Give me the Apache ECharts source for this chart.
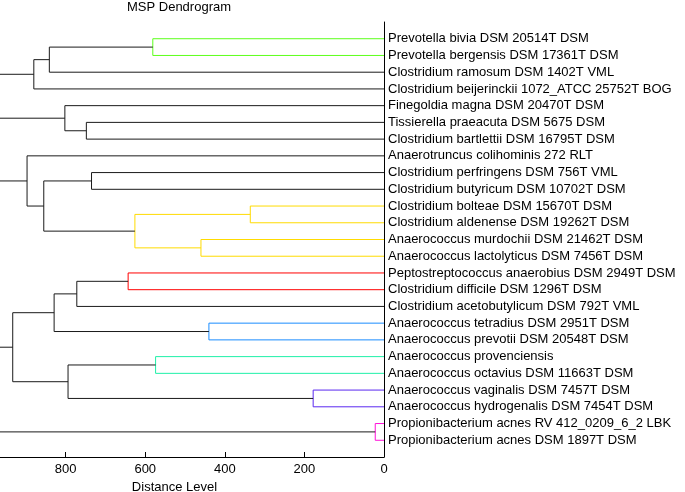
<!DOCTYPE html>
<html>
<head>
<meta charset="utf-8">
<script src="https://cdn.jsdelivr.net/npm/echarts@6/dist/echarts.min.js"></script>
<style>html,body{margin:0;padding:0;background:#fff;}#c{width:685px;height:492px;}</style>
</head>
<body>
<div id="c"></div>
<script>
// Leaf labels, top to bottom (leaf 1..25)
var leafLabels = [
  'Prevotella bivia DSM 20514T DSM',
  'Prevotella bergensis DSM 17361T DSM',
  'Clostridium ramosum DSM 1402T VML',
  'Clostridium beijerinckii 1072_ATCC 25752T BOG',
  'Finegoldia magna DSM 20470T DSM',
  'Tissierella praeacuta DSM 5675 DSM',
  'Clostridium bartlettii DSM 16795T DSM',
  'Anaerotruncus colihominis 272 RLT',
  'Clostridium perfringens DSM 756T VML',
  'Clostridium butyricum DSM 10702T DSM',
  'Clostridium bolteae DSM 15670T DSM',
  'Clostridium aldenense DSM 19262T DSM',
  'Anaerococcus murdochii DSM 21462T DSM',
  'Anaerococcus lactolyticus DSM 7456T DSM',
  'Peptostreptococcus anaerobius DSM 2949T DSM',
  'Clostridium difficile DSM 1296T DSM',
  'Clostridium acetobutylicum DSM 792T VML',
  'Anaerococcus tetradius DSM 2951T DSM',
  'Anaerococcus prevotii DSM 20548T DSM',
  'Anaerococcus provenciensis',
  'Anaerococcus octavius DSM 11663T DSM',
  'Anaerococcus vaginalis DSM 7457T DSM',
  'Anaerococcus hydrogenalis DSM 7454T DSM',
  'Propionibacterium acnes RV 412_0209_6_2 LBK',
  'Propionibacterium acnes DSM 1897T DSM'
];
// Linkage (MATLAB style): nodes 1..25 are leaves, node 26+ are links in this order
var linkLeft  = [1, 26, 27, 6, 5, 9, 11, 13, 32, 31, 8, 15, 37, 18, 38, 20, 22, 41, 40, 24];
var linkRight = [2, 3, 4, 7, 29, 10, 12, 14, 33, 34, 35, 16, 17, 19, 39, 21, 23, 42, 43, 25];
var linkDistance = [581, 841, 880, 748, 802, 735, 336, 460, 626, 855, 897, 643, 772, 440, 829, 574, 178, 794, 933, 22];
// colour group of each link (0 = uncoloured)
var linkGroup = [3, 0, 0, 0, 0, 0, 2, 2, 2, 0, 0, 1, 0, 5, 0, 4, 6, 0, 0, 7];
// top-level clusters whose joining links lie beyond the visible distance range
var outerRoots = [28, 30, 36, 44, 45];
var xTicks = [0, 200, 400, 600, 800];

var groupColors = ['#1a1a1a', '#ff0000', '#ffdb00', '#5cff1a', '#1ff0a8', '#1a8cff', '#5a28f0', '#ff10d8'];

var nLeaf = leafLabels.length;
var nodeY = {}, nodeH = {};
for (var i = 1; i <= nLeaf; i++) { nodeY[i] = i; nodeH[i] = 0; }
var series = [];
for (var k = 0; k < linkLeft.length; k++) {
  var a = linkLeft[k], b = linkRight[k], h = linkDistance[k], id = nLeaf + 1 + k;
  nodeY[id] = (nodeY[a] + nodeY[b]) / 2;
  nodeH[id] = h;
  series.push({
    type: 'line', symbol: 'none', silent: true, animation: false, clip: true,
    lineStyle: { color: groupColors[linkGroup[k]], width: 1 },
    data: [[nodeH[a], nodeY[a]], [h, nodeY[a]], [h, nodeY[b]], [nodeH[b], nodeY[b]]]
  });
}
outerRoots.forEach(function (r) {
  series.push({
    type: 'line', symbol: 'none', silent: true, animation: false, clip: true,
    lineStyle: { color: groupColors[0], width: 1 },
    data: [[nodeH[r], nodeY[r]], [2000, nodeY[r]]]
  });
});

var chart = echarts.init(document.getElementById('c'), null, { renderer: 'canvas' });
var font = 'Liberation Sans, Arial, Helvetica, sans-serif';
chart.setOption({
  backgroundColor: '#fff',
  animation: false,
  title: {
    text: 'MSP Dendrogram', left: 174, top: -4, textAlign: 'center',
    textStyle: { fontFamily: font, fontSize: 13, fontWeight: 'normal', color: '#000' }
  },
  grid: { left: 0, right: 301, top: 22, bottom: 35, containLabel: false, outerBoundsMode: 'none' },
  xAxis: {
    type: 'value', inverse: true, min: 0, max: 965, interval: 200,
    splitLine: { show: false },
    axisLine: { show: true, onZero: false, lineStyle: { color: '#000', width: 1 } },
    axisTick: { show: true, inside: true, length: 5, lineStyle: { color: '#000' } },
    axisLabel: {
      color: '#000', fontFamily: font, fontSize: 13, margin: 6, showMaxLabel: false,
      formatter: function (v) { return xTicks.indexOf(v) >= 0 ? String(v) : ''; }
    },
    name: 'Distance Level', nameLocation: 'middle', nameGap: 24,
    nameTextStyle: { color: '#000', fontFamily: font, fontSize: 13, verticalAlign: 'top', padding: [0, 0, 0, -35] }
  },
  yAxis: {
    type: 'value', inverse: true, position: 'right', min: 0, max: nLeaf + 1, interval: 1,
    splitLine: { show: false },
    axisLine: { show: true, onZero: false, lineStyle: { color: '#000', width: 1 } },
    axisTick: { show: false },
    axisLabel: {
      color: '#000', fontFamily: font, fontSize: 13, margin: 4, align: 'left',
      showMinLabel: false, showMaxLabel: false,
      formatter: function (v) { return leafLabels[v - 1] || ''; }
    }
  },
  series: series
});
</script>
</body>
</html>
